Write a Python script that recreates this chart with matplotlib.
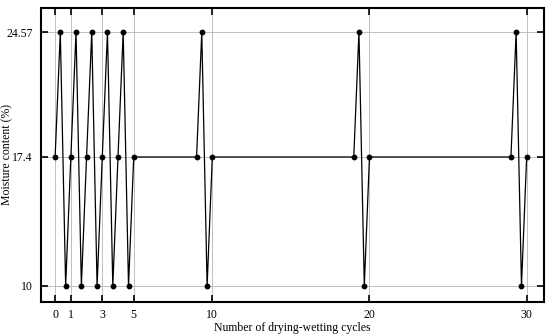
import matplotlib
matplotlib.use('Agg')
import matplotlib.pyplot as plt

# Data
cycles = [0, 0.33, 0.67, 1, 1.33, 1.67, 2, 2.33, 2.67, 3, 3.33, 3.67, 4, 4.33, 4.67, 5,
          9, 9.33, 9.67, 10, 19, 19.33, 19.67, 20, 29, 29.33, 29.67, 30]
moisture = [17.4, 24.57, 10, 17.4, 24.57, 10, 17.4, 24.57, 10, 17.4, 24.57, 10, 17.4, 24.57, 10, 17.4,
            17.4, 24.57, 10, 17.4, 17.4, 24.57, 10, 17.4, 17.4, 24.57, 10, 17.4]
x_ticks = [0, 1, 3, 5, 10, 20, 30]
y_ticks = [10, 17.4, 24.57]
y_labels = ['10', '17.4', '24.57']

plt.rcParams['font.family'] = 'Liberation Serif'
plt.rcParams['font.size'] = 8.5

fig = plt.figure(figsize=(5.5, 3.34), dpi=100)
ax = fig.add_axes([0.0745, 0.096, 0.9145, 0.88])

ax.plot(cycles, moisture, color='black', linewidth=0.9, marker='o', markersize=3.2, zorder=3)

ax.set_xlim(-0.9, 31.1)
ax.set_ylim(9.08, 25.95)
ax.set_xticks(x_ticks)
ax.set_yticks(y_ticks)
ax.set_yticklabels(y_labels)
ax.grid(True, color='#b5b5b5', linewidth=0.6)
ax.tick_params(direction='in', length=5, width=1.2, top=True, right=True, pad=5)
ax.tick_params(axis='y', pad=6)
for s in ax.spines.values():
    s.set_linewidth(1.5)

ax.set_xlabel('Number of drying-wetting cycles', labelpad=1)
ax.set_ylabel('Moisture content (%)')
ax.yaxis.set_label_coords(-0.056, 0.5)

fig.savefig('out.png', dpi=100)
